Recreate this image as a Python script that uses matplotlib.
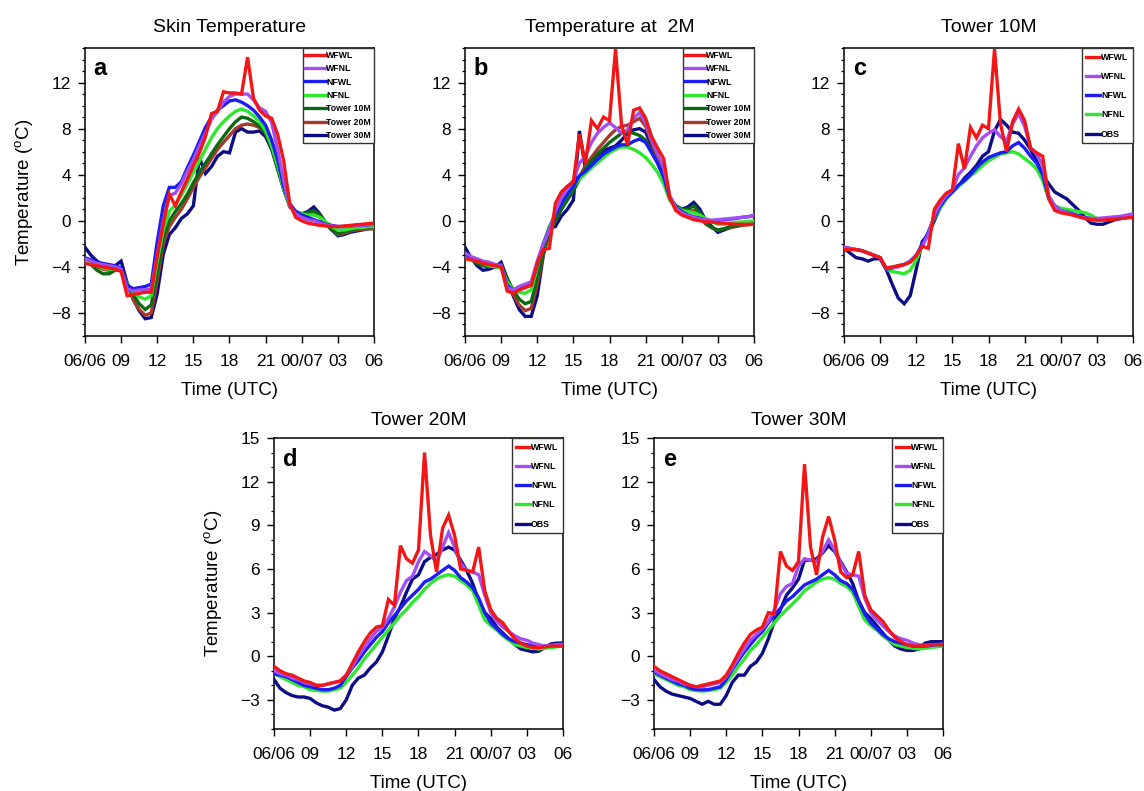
import numpy as np
import matplotlib
matplotlib.use("Agg")
import matplotlib.pyplot as plt
from matplotlib.ticker import MultipleLocator, FixedLocator
from matplotlib.lines import Line2D

plt.rcParams["font.family"] = ["Liberation Sans", "DejaVu Sans"]
plt.rcParams["axes.unicode_minus"] = True
plt.rcParams["mathtext.fontset"] = "custom"
plt.rcParams["mathtext.rm"] = "Liberation Sans"

# Half-hourly samples, hours since 06 UTC on 06/06
HOURS = np.arange(0, 24.5, 0.5)
TICK_HOURS = [0, 3, 6, 9, 12, 15, 18, 21, 24]
TICK_LABELS = ["06/06", "09", "12", "15", "18", "21", "00/07", "03", "06"]

# ---- (a) Skin temperature ----
a_wfwl = [-3.7, -3.8, -3.9, -4.0, -4.1, -4.2, -4.4, -6.5, -6.4, -6.3, -6.2, -6.2, -3.0, -0.3, 2.3, 1.3, 2.5, 3.6, 4.8, 5.9, 7.3, 9.3, 9.5, 11.2, 11.1, 11.1, 11.0, 14.2, 10.6, 9.6, 9.1, 8.9, 7.5, 5.2, 1.5, 0.3, 0.0, -0.2, -0.3, -0.4, -0.45, -0.5, -0.5, -0.45, -0.4, -0.35, -0.3, -0.25, -0.2]
a_wfnl = [-3.3, -3.5, -3.7, -3.8, -3.9, -4.0, -4.2, -5.9, -6.1, -6.0, -6.0, -5.9, -3.0, 0.0, 2.2, 2.4, 3.2, 4.3, 5.3, 6.5, 7.6, 8.8, 9.5, 10.3, 10.8, 11.0, 11.0, 11.0, 10.5, 9.8, 9.5, 8.5, 6.2, 3.5, 1.3, 0.6, 0.3, 0.1, 0.0, -0.2, -0.35, -0.45, -0.5, -0.5, -0.45, -0.4, -0.4, -0.35, -0.3]
a_nfwl = [-3.2, -3.4, -3.6, -3.7, -3.8, -3.9, -4.1, -5.6, -5.9, -5.8, -5.7, -5.5, -1.8, 1.3, 2.9, 2.9, 3.4, 4.6, 5.7, 6.9, 8.1, 9.0, 9.6, 10.0, 10.4, 10.5, 10.3, 10.0, 9.6, 9.0, 8.3, 7.0, 5.3, 3.0, 1.5, 0.8, 0.5, 0.3, 0.1, -0.1, -0.3, -0.4, -0.5, -0.5, -0.45, -0.4, -0.4, -0.35, -0.3]
a_nfnl = [-3.5, -3.7, -3.9, -4.1, -4.2, -4.2, -4.3, -5.5, -6.2, -6.6, -6.8, -6.5, -3.5, -0.8, 0.8, 1.4, 2.2, 3.2, 4.2, 5.2, 6.2, 7.2, 8.0, 8.6, 9.1, 9.5, 9.7, 9.5, 9.1, 8.6, 7.8, 6.5, 4.8, 2.8, 1.3, 0.8, 0.6, 0.5, 0.5, 0.3, -0.1, -0.5, -0.8, -0.8, -0.7, -0.6, -0.6, -0.5, -0.5]
a_t10 = [-3.3, -3.8, -4.3, -4.6, -4.6, -4.3, -4.2, -5.4, -6.4, -7.2, -7.7, -7.3, -4.5, -1.5, 0.0, 0.8, 1.5, 2.3, 3.3, 4.2, 5.0, 5.8, 6.6, 7.3, 8.0, 8.6, 9.0, 8.9, 8.6, 8.2, 7.6, 6.3, 4.5, 2.7, 1.3, 0.8, 0.6, 0.7, 0.9, 0.5, -0.2, -0.8, -1.1, -1.0, -0.8, -0.7, -0.6, -0.55, -0.5]
a_t20 = [-3.5, -3.7, -4.0, -4.2, -4.3, -4.2, -4.2, -5.6, -6.8, -7.7, -8.2, -8.0, -5.2, -2.0, -0.5, 0.3, 1.0, 1.9, 2.9, 3.8, 4.6, 5.4, 6.2, 6.8, 7.4, 8.0, 8.3, 8.4, 8.3, 8.1, 7.6, 6.4, 4.6, 2.8, 1.2, 0.7, 0.5, 0.6, 0.7, 0.3, -0.3, -0.8, -1.2, -1.1, -0.9, -0.8, -0.75, -0.7, -0.7]
a_t30 = [-2.3, -3.0, -3.5, -3.8, -4.0, -3.9, -3.5, -5.4, -6.8, -7.8, -8.5, -8.4, -6.3, -2.9, -1.2, -0.6, 0.2, 0.6, 1.3, 5.5, 4.1, 4.7, 5.6, 6.0, 5.9, 7.7, 8.0, 7.7, 7.7, 7.8, 7.3, 6.2, 4.5, 2.8, 1.3, 0.8, 0.6, 0.8, 1.2, 0.6, -0.2, -0.8, -1.3, -1.2, -1.0, -0.9, -0.8, -0.7, -0.6]

# ---- (b) Temperature at 2 m ----
b_wfwl = [-3.3, -3.4, -3.5, -3.7, -3.8, -3.9, -4.0, -6.1, -6.3, -6.0, -5.8, -5.6, -3.7, -2.5, -2.4, 1.5, 2.5, 3.0, 3.4, 7.5, 5.0, 8.7, 8.0, 9.0, 8.7, 14.9, 8.3, 6.6, 9.6, 9.8, 8.9, 7.3, 6.3, 5.4, 2.0, 0.9, 0.5, 0.3, 0.1, 0.0, -0.1, -0.1, -0.2, -0.2, -0.25, -0.3, -0.3, -0.3, -0.3]
b_wfnl = [-2.8, -3.1, -3.3, -3.5, -3.6, -3.8, -3.9, -5.8, -6.0, -5.7, -5.5, -5.3, -3.5, -2.0, -0.8, 0.8, 2.0, 2.8, 3.5, 5.0, 5.6, 6.8, 7.6, 8.1, 8.5, 8.1, 7.6, 7.9, 8.9, 9.4, 8.5, 7.0, 5.8, 4.6, 2.2, 1.1, 0.7, 0.45, 0.3, 0.15, 0.1, 0.05, 0.1, 0.15, 0.2, 0.25, 0.3, 0.35, 0.5]
b_nfwl = [-2.9, -3.2, -3.4, -3.6, -3.7, -3.8, -3.9, -5.6, -6.0, -5.8, -5.6, -5.5, -3.8, -2.0, -0.7, 0.5, 1.5, 2.3, 3.0, 3.9, 4.3, 4.8, 5.3, 5.8, 6.1, 6.4, 6.6, 6.6, 6.9, 7.1, 6.8, 5.9, 5.0, 3.8, 2.0, 1.2, 0.8, 0.5, 0.35, 0.2, 0.1, 0.0, 0.05, 0.1, 0.15, 0.2, 0.3, 0.35, 0.45]
b_nfnl = [-3.0, -3.3, -3.5, -3.7, -3.9, -4.0, -4.1, -5.3, -6.0, -6.2, -6.3, -6.0, -4.0, -2.0, -0.5, 0.6, 1.5, 2.3, 3.0, 3.6, 4.1, 4.6, 5.0, 5.5, 5.9, 6.2, 6.4, 6.4, 6.2, 5.9, 5.5, 4.9, 4.2, 3.2, 1.8, 1.2, 0.9, 0.8, 0.7, 0.5, 0.2, -0.1, -0.3, -0.3, -0.2, -0.15, -0.1, -0.05, 0.0]
b_t10 = [-2.8, -3.3, -3.7, -3.9, -4.0, -3.9, -3.8, -5.0, -6.0, -6.8, -7.2, -7.0, -5.0, -2.8, -1.0, 0.0, 1.0, 1.8, 2.6, 3.6, 4.5, 5.2, 5.8, 6.3, 6.8, 7.2, 7.6, 7.7, 7.6, 7.4, 7.0, 6.0, 5.0, 3.8, 2.0, 1.3, 1.0, 1.0, 1.3, 0.7, -0.2, -0.6, -0.8, -0.7, -0.5, -0.4, -0.3, -0.2, -0.1]
b_t20 = [-2.8, -3.2, -3.5, -3.8, -3.9, -3.9, -3.8, -5.2, -6.4, -7.3, -7.8, -7.6, -5.5, -3.0, -1.0, 0.0, 1.0, 1.9, 2.8, 3.8, 4.8, 5.5, 6.2, 6.8, 7.4, 7.9, 8.2, 8.3, 8.6, 8.9, 8.2, 6.8, 5.5, 4.2, 2.1, 1.2, 0.9, 0.8, 0.9, 0.4, -0.3, -0.6, -0.8, -0.7, -0.6, -0.5, -0.4, -0.35, -0.3]
b_t30 = [-2.3, -3.2, -3.9, -4.3, -4.2, -4.0, -3.6, -5.0, -6.5, -7.7, -8.3, -8.3, -6.5, -3.0, -0.6, -0.5, 0.4, 1.0, 1.8, 7.8, 4.5, 5.0, 5.7, 6.1, 6.3, 6.5, 7.0, 7.6, 7.9, 8.0, 7.7, 6.5, 5.3, 4.0, 2.0, 1.3, 1.0, 1.2, 1.6, 1.0, 0.0, -0.5, -1.0, -0.8, -0.6, -0.4, -0.3, -0.2, -0.1]

# ---- (c) Tower 10 m ----
c_wfwl = [-2.5, -2.5, -2.5, -2.6, -2.8, -3.0, -3.2, -4.1, -4.0, -3.9, -3.8, -3.6, -3.0, -2.2, -2.4, 1.0, 1.8, 2.4, 2.7, 6.7, 4.5, 8.1, 7.2, 8.3, 8.0, 14.9, 8.4, 6.0, 8.6, 9.7, 8.7, 6.3, 5.9, 5.6, 1.9, 0.9, 0.7, 0.6, 0.5, 0.35, 0.2, 0.1, 0.05, 0.05, 0.1, 0.15, 0.2, 0.25, 0.3]
c_wfnl = [-2.3, -2.4, -2.5, -2.6, -2.8, -3.0, -3.2, -4.1, -4.1, -4.0, -3.8, -3.5, -3.0, -2.2, -1.2, 0.5, 1.5, 2.2, 2.7, 4.0, 4.6, 5.6, 6.5, 7.2, 7.6, 7.9, 7.3, 6.9, 8.4, 9.3, 8.2, 6.3, 5.8, 4.8, 2.2, 1.3, 0.9, 0.7, 0.5, 0.35, 0.25, 0.2, 0.2, 0.25, 0.3, 0.35, 0.4, 0.5, 0.6]
c_nfwl = [-2.3, -2.4, -2.5, -2.6, -2.8, -3.0, -3.2, -4.2, -4.1, -3.9, -3.8, -3.5, -3.0, -2.0, -1.0, 0.3, 1.3, 2.0, 2.5, 3.1, 3.5, 4.0, 4.6, 5.1, 5.5, 5.7, 5.9, 6.0, 6.5, 6.8, 6.3, 5.6, 5.0, 4.0, 2.0, 1.3, 0.9, 0.75, 0.6, 0.45, 0.3, 0.2, 0.1, 0.15, 0.2, 0.25, 0.3, 0.35, 0.4]
c_nfnl = [-2.3, -2.4, -2.5, -2.6, -2.8, -3.0, -3.2, -4.2, -4.4, -4.5, -4.6, -4.3, -3.4, -2.2, -1.0, 0.2, 1.1, 1.9, 2.5, 3.0, 3.4, 3.9, 4.3, 4.8, 5.2, 5.5, 5.8, 5.9, 6.0, 5.8, 5.4, 5.0, 4.5, 3.5, 1.9, 1.3, 1.1, 1.0, 0.9, 0.8, 0.7, 0.5, 0.2, 0.15, 0.2, 0.25, 0.3, 0.35, 0.4]
c_obs = [-2.4, -2.8, -3.2, -3.3, -3.5, -3.3, -3.3, -4.2, -5.5, -6.7, -7.2, -6.5, -4.2, -1.8, -1.2, 0.0, 1.2, 2.0, 2.5, 3.0, 3.7, 4.2, 4.8, 5.6, 6.0, 7.8, 8.8, 8.3, 7.7, 7.6, 7.0, 6.2, 5.2, 4.0, 3.2, 2.5, 2.2, 1.9, 1.4, 0.9, 0.3, -0.2, -0.3, -0.3, -0.1, 0.1, 0.2, 0.3, 0.4]

# ---- (d) Tower 20 m ----
d_wfwl = [-0.7, -1.0, -1.2, -1.3, -1.5, -1.7, -1.8, -2.0, -2.0, -1.9, -1.8, -1.7, -1.3, -0.5, 0.3, 1.0, 1.6, 2.0, 2.1, 3.9, 3.5, 7.6, 6.7, 6.4, 7.3, 14.0, 8.3, 5.8, 8.8, 9.7, 8.3, 6.0, 5.9, 5.8, 7.5, 4.5, 3.2, 2.6, 2.3, 1.7, 1.2, 0.9, 0.7, 0.6, 0.6, 0.65, 0.7, 0.7, 0.7]
d_wfnl = [-1.0, -1.2, -1.3, -1.5, -1.6, -1.8, -1.9, -2.0, -2.0, -1.9, -1.8, -1.7, -1.3, -0.7, 0.0, 0.6, 1.2, 1.7, 2.0, 2.6, 3.4, 4.4, 5.2, 5.5, 6.5, 7.2, 6.9, 6.5, 7.5, 8.5, 7.5, 6.4, 5.9, 5.8, 5.6, 4.2, 3.0, 2.4, 2.0, 1.7, 1.4, 1.2, 1.1, 0.9, 0.8, 0.7, 0.75, 0.8, 0.8]
d_nfwl = [-1.2, -1.3, -1.4, -1.6, -1.8, -2.0, -2.1, -2.2, -2.3, -2.3, -2.2, -2.0, -1.4, -0.8, -0.3, 0.3, 0.8, 1.3, 1.7, 2.3, 2.8, 3.3, 3.8, 4.2, 4.6, 5.1, 5.3, 5.6, 5.9, 6.2, 5.9, 5.4, 5.1, 4.7, 4.0, 3.0, 2.3, 1.9, 1.5, 1.2, 1.0, 0.9, 0.8, 0.7, 0.7, 0.7, 0.75, 0.8, 0.8]
d_nfnl = [-1.2, -1.4, -1.6, -1.8, -2.0, -2.1, -2.3, -2.35, -2.4, -2.4, -2.3, -2.2, -1.8, -1.3, -0.8, -0.2, 0.3, 0.8, 1.3, 1.8, 2.3, 2.8, 3.2, 3.7, 4.1, 4.6, 5.0, 5.3, 5.5, 5.6, 5.5, 5.2, 4.9, 4.5, 3.5, 2.5, 2.1, 1.8, 1.4, 1.1, 0.8, 0.7, 0.6, 0.55, 0.5, 0.55, 0.6, 0.65, 0.7]
d_obs = [-1.6, -2.2, -2.5, -2.7, -2.8, -2.8, -2.9, -3.2, -3.4, -3.5, -3.7, -3.6, -3.0, -2.0, -1.5, -1.3, -0.8, -0.4, 0.3, 1.4, 2.6, 3.4, 4.4, 5.3, 5.6, 6.5, 6.8, 7.0, 7.3, 7.5, 7.3, 6.6, 5.9, 5.0, 3.8, 3.0, 2.6, 2.0, 1.6, 1.2, 0.8, 0.5, 0.4, 0.3, 0.35, 0.6, 0.85, 0.9, 0.9]

# ---- (e) Tower 30 m ----
e_wfwl = [-0.7, -1.0, -1.2, -1.4, -1.6, -1.8, -2.0, -2.1, -2.0, -1.9, -1.8, -1.7, -1.3, -0.6, 0.2, 0.9, 1.5, 1.8, 2.0, 3.0, 2.9, 7.2, 6.2, 5.9, 6.5, 13.2, 7.5, 5.6, 8.2, 9.6, 8.0, 5.8, 5.4, 5.6, 7.2, 4.2, 3.2, 2.8, 2.4, 1.8, 1.3, 1.0, 0.8, 0.7, 0.7, 0.75, 0.8, 0.8, 0.8]
e_wfnl = [-1.0, -1.2, -1.4, -1.6, -1.7, -1.9, -2.0, -2.1, -2.1, -2.0, -1.9, -1.8, -1.4, -0.8, -0.1, 0.5, 1.1, 1.5, 1.9, 2.4, 3.2, 4.3, 4.8, 5.0, 6.2, 6.7, 6.6, 6.5, 7.2, 8.0, 7.3, 6.4, 5.7, 5.6, 5.5, 4.0, 3.0, 2.5, 2.1, 1.7, 1.4, 1.2, 1.1, 0.9, 0.8, 0.75, 0.8, 0.8, 0.85]
e_nfwl = [-1.1, -1.3, -1.5, -1.7, -1.9, -2.0, -2.2, -2.3, -2.3, -2.3, -2.2, -2.1, -1.6, -0.9, -0.3, 0.3, 0.8, 1.3, 1.7, 2.3, 2.8, 3.3, 3.8, 4.1, 4.5, 4.9, 5.1, 5.3, 5.6, 5.9, 5.6, 5.2, 5.0, 4.6, 3.8, 2.9, 2.3, 1.9, 1.5, 1.2, 1.0, 0.9, 0.8, 0.7, 0.7, 0.7, 0.75, 0.8, 0.8]
e_nfnl = [-1.2, -1.4, -1.6, -1.8, -2.0, -2.1, -2.3, -2.35, -2.4, -2.35, -2.3, -2.2, -1.8, -1.3, -0.7, -0.2, 0.4, 0.8, 1.3, 1.8, 2.3, 2.8, 3.2, 3.6, 4.0, 4.5, 4.8, 5.1, 5.3, 5.4, 5.3, 5.0, 4.8, 4.4, 3.4, 2.5, 2.1, 1.8, 1.4, 1.1, 0.8, 0.7, 0.6, 0.55, 0.5, 0.55, 0.6, 0.65, 0.7]
e_obs = [-1.6, -2.1, -2.4, -2.6, -2.7, -2.8, -2.9, -3.1, -3.3, -3.1, -3.3, -3.3, -2.7, -1.8, -1.3, -1.3, -0.7, -0.4, 0.2, 1.2, 2.4, 3.2, 4.2, 4.7, 5.3, 6.6, 6.6, 6.7, 7.1, 7.6, 7.2, 6.5, 5.8, 5.0, 3.8, 3.0, 2.6, 2.1, 1.6, 1.1, 0.7, 0.5, 0.4, 0.4, 0.5, 0.9, 1.0, 1.0, 1.0]

MODEL_NAMES = ["WFWL", "WFNL", "NFWL", "NFNL"]
TOWER_NAMES = ["Tower 10M", "Tower 20M", "Tower 30M"]
OBS_NAME = "OBS"

COLORS = {
    "WFWL": "#f21616",
    "WFNL": "#a24ef2",
    "NFWL": "#1c1cf5",
    "NFNL": "#2ee82e",
    "Tower 10M": "#0a6a12",
    "Tower 20M": "#a63a2c",
    "Tower 30M": "#0c0c86",
    "OBS": "#0c0c86",
}

W, H = 1144, 791
fig = plt.figure(figsize=(W / 100, H / 100), dpi=100)


def px_axes(left, top, width, height):
    return fig.add_axes([left / W, 1 - (top + height) / H, width / W, height / H])


def draw_panel(ax, series, names, title, letter, ylim, ystep, ylabel,
               title_pad, leg_spacing, leg_pad, handle_len):
    n = len(names)
    for k, (name, vals) in enumerate(zip(names, series)):
        ax.plot(HOURS, vals, color=COLORS[name], lw=2.4,
                solid_joinstyle="miter", zorder=10 + (n - k))
    ax.set_xlim(0, 24)
    ax.set_ylim(*ylim)
    ax.xaxis.set_major_locator(FixedLocator(TICK_HOURS))
    ax.set_xticklabels(TICK_LABELS)
    ax.yaxis.set_major_locator(MultipleLocator(ystep))
    ax.yaxis.set_minor_locator(MultipleLocator(1))
    ax.tick_params(axis="both", which="major", direction="out", length=5,
                   width=1.0, labelsize=12.4, top=False, right=False)
    ax.tick_params(axis="y", which="major", pad=5)
    ax.tick_params(axis="x", which="major", pad=8)
    ax.tick_params(axis="y", which="minor", direction="out", length=2.5,
                   width=0.9)
    for sp in ax.spines.values():
        sp.set_linewidth(1.1)
    ax.set_title(title, fontsize=14, pad=title_pad)
    ax.set_xlabel("Time (UTC)", fontsize=13.5, labelpad=9)
    if ylabel:
        ax.set_ylabel(r"Temperature ($^{\mathrm{o}}$C)", fontsize=13.5,
                      labelpad=11)
    ax.text(0.03, 0.905, letter, transform=ax.transAxes, fontsize=17,
            fontweight="bold", va="baseline", ha="left", zorder=30)
    handles = [Line2D([], [], color=COLORS[nm], lw=2.4) for nm in names]
    leg = ax.legend(handles, names, loc="upper right", bbox_to_anchor=(1, 1),
                    borderaxespad=0, frameon=True, fancybox=False,
                    edgecolor="#333333", framealpha=1,
                    prop={"size": 6.3, "weight": "bold"},
                    handlelength=handle_len, handletextpad=0.1,
                    labelspacing=leg_spacing, borderpad=leg_pad)
    leg.get_frame().set_linewidth(1.0)
    leg.set_zorder(40)


ax_a = px_axes(85, 48, 289, 288)
draw_panel(ax_a, [a_wfwl, a_wfnl, a_nfwl, a_nfnl, a_t10, a_t20, a_t30],
           MODEL_NAMES + TOWER_NAMES, "Skin Temperature", "a",
           (-10, 15), 4, True, 11.5, 0.5, 0.32, 2.3)

ax_b = px_axes(465, 48, 289, 288)
draw_panel(ax_b, [b_wfwl, b_wfnl, b_nfwl, b_nfnl, b_t10, b_t20, b_t30],
           MODEL_NAMES + TOWER_NAMES, "Temperature at  2M", "b",
           (-10, 15), 4, False, 11.5, 0.5, 0.32, 2.3)

ax_c = px_axes(844, 48, 289, 288)
draw_panel(ax_c, [c_wfwl, c_wfnl, c_nfwl, c_nfnl, c_obs],
           MODEL_NAMES + [OBS_NAME], "Tower 10M", "c",
           (-10, 15), 4, False, 11.5, 1.17, 0.53, 1.6)

ax_d = px_axes(274, 438, 289, 291)
draw_panel(ax_d, [d_wfwl, d_wfnl, d_nfwl, d_nfnl, d_obs],
           MODEL_NAMES + [OBS_NAME], "Tower 20M", "d",
           (-5, 15), 3, True, 9.5, 1.17, 0.53, 1.6)

ax_e = px_axes(654, 438, 289, 291)
draw_panel(ax_e, [e_wfwl, e_wfnl, e_nfwl, e_nfnl, e_obs],
           MODEL_NAMES + [OBS_NAME], "Tower 30M", "e",
           (-5, 15), 3, False, 9.5, 1.17, 0.53, 1.6)

fig.savefig("out.png", dpi=100)
